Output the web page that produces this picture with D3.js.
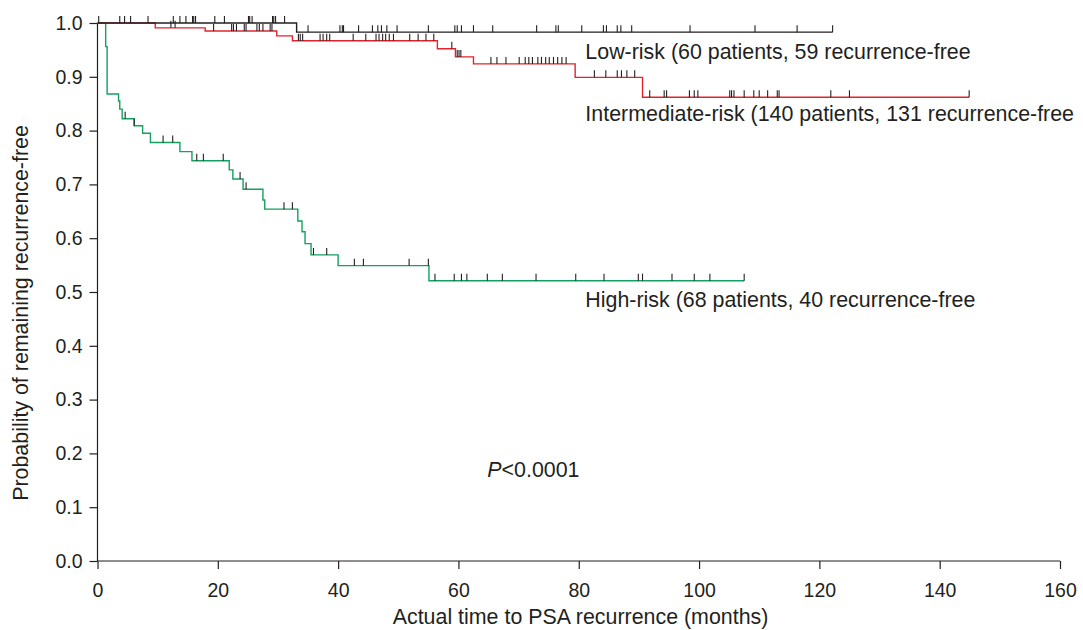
<!DOCTYPE html>
<html>
<head>
<meta charset="utf-8">
<script src="https://cdn.jsdelivr.net/npm/d3@7"></script>
<style>
body { margin:0; background:#fff; }
text { font-family: "Liberation Sans", Arial, sans-serif; fill:#231f20; }
</style>
</head>
<body>
<div class="km-container"></div>
<script>
// ---- data (months, probability) ----
var xTicks = [0, 20, 40, 60, 80, 100, 120, 140, 160];
var yTicks = [0, 0.1, 0.2, 0.3, 0.4, 0.5, 0.6, 0.7, 0.8, 0.9, 1.0];

var lowTimes = [0, 33.1];
var lowProbs = [1.0, 0.983];
var lowEnd = 122.2;
var lowCensor = [0.2, 3.7, 4.5, 5.5, 8.4, 12.6, 13.7, 14.7, 15.8, 16.0, 16.3, 19.5, 21.1, 25.1, 25.3, 25.7,
	29.1, 29.3, 29.6, 31.1, 35.0, 40.3, 40.7, 40.9, 43.4, 45.7, 46.6, 47.2, 48.1, 49.8, 55.0, 59.4, 59.8,
	60.5, 62.5, 65.7, 73.0, 76.2, 76.6, 80.5, 84.1, 84.6, 86.4, 87.0, 88.8, 98.5, 109.3, 116.3, 122.2];

var midTimes = [0, 9.6, 17.9, 29.8, 32.4, 56.5, 59.5, 62.5, 79.4, 90.6];
var midProbs = [1.0, 0.991, 0.985, 0.976, 0.967, 0.952, 0.937, 0.924, 0.899, 0.862];
var midEnd = 144.9;
var midCensor = [12.2, 12.9, 19.3, 22.3, 22.6, 23.1, 24.4, 24.7, 26.5, 26.9, 27.5, 28.7, 29.0, 33.4, 33.7, 34.1,
	37.0, 37.5, 38.1, 38.6, 42.5, 44.6, 46.3, 46.8, 47.4, 47.9, 48.5, 49.2, 51.9, 53.3, 54.6, 55.9, 58.9,
	59.8, 60.1, 60.4, 65.4, 66.4, 67.9, 70.1, 71.1, 71.7, 72.3, 73.2, 73.8, 74.5, 75.1, 75.8, 76.5, 77.2,
	77.9, 82.6, 84.5, 86.4, 87.1, 88.0, 89.3, 91.8, 94.2, 94.6, 98.4, 99.2, 99.8, 105.1, 105.4, 105.8,
	107.5, 109.1, 110.0, 111.4, 113.0, 113.3, 121.9, 125.0, 144.9];

var highTimes = [0, 1.36, 1.6, 3.5, 3.7, 4.1, 6.1, 7.5, 8.8, 13.7, 15.7, 21.9, 22.5, 24.2, 27.5, 27.8,
	33.3, 34.0, 34.5, 35.5, 40.0, 55.1];
var highProbs = [1.0, 0.956, 0.868, 0.855, 0.840, 0.822, 0.809, 0.795, 0.778, 0.761, 0.744, 0.727, 0.710,
	0.691, 0.671, 0.654, 0.632, 0.612, 0.590, 0.569, 0.549, 0.521];
var highEnd = 107.5;
var highCensor = [4.6, 6.1, 10.9, 12.5, 16.5, 17.6, 20.9, 23.7, 24.7, 31.0, 32.4, 35.9, 38.1, 42.7, 44.2,
	51.8, 55.0, 56.1, 59.3, 60.5, 61.4, 64.8, 67.3, 72.9, 79.5, 84.2, 89.9, 90.6, 95.5, 99.2, 101.8, 107.5];

var seriesNames = ['Low-risk (60 patients, 59 recurrence-free',
	'Intermediate-risk (140 patients, 131 recurrence-free',
	'High-risk (68 patients, 40 recurrence-free'];

// ---- layout ----
var margin = {top:23, right:23, bottom:69, left:97.5},
	width = 1083 - margin.left - margin.right,
	height = 630 - margin.top - margin.bottom;

var svg = d3.select('.km-container').append('svg')
	.attr('width', 1083)
	.attr('height', 630);

var g = svg.append('g')
	.attr('transform', 'translate(' + margin.left + ',' + margin.top + ')');

var x = d3.scaleLinear().domain([0, 160]).range([0, width]);
var y = d3.scaleLinear().domain([0, 1]).range([height, 0]);

// axes
var xAxis = d3.axisBottom(x).tickValues(xTicks).tickSize(8).tickFormat(d3.format('d'));
var yAxis = d3.axisLeft(y).tickValues(yTicks).tickSize(8).tickFormat(d3.format('.1f'));

g.append('g').attr('transform', 'translate(0,' + height + ')').call(xAxis)
	.call(function(a) {
		a.select('.domain').attr('d', 'M0,0H' + width).attr('stroke', '#231f20').attr('stroke-width', 1.2);
		a.selectAll('.tick line').attr('stroke', '#231f20').attr('stroke-width', 1.2);
		a.selectAll('.tick text').attr('dy', 0).attr('y', 36)
			.style('font-size', '19.5px').style('font-family', '"Liberation Sans", Arial, sans-serif').attr('fill', '#231f20');
	});

g.append('g').call(yAxis)
	.call(function(a) {
		a.select('.domain').attr('d', 'M0,' + height + 'V0').attr('stroke', '#231f20').attr('stroke-width', 1.2);
		a.selectAll('.tick line').attr('stroke', '#231f20').attr('stroke-width', 1.2);
		a.selectAll('.tick text').attr('x', -15)
			.style('font-size', '19.5px').style('font-family', '"Liberation Sans", Arial, sans-serif').attr('fill', '#231f20');
	});

// axis titles
g.append('text')
	.text('Actual time to PSA recurrence (months)')
	.attr('x', x(80.3))
	.attr('y', height + 63)
	.style('text-anchor', 'middle')
	.style('font-size', '21.4px');

g.append('text')
	.text('Probability of remaining recurrence-free')
	.attr('transform', 'translate(' + (-70) + ',' + (290) + ') rotate(-90)')
	.style('text-anchor', 'middle')
	.style('font-size', '21.4px');

// curves
var series = [
	{times: highTimes, probs: highProbs, end: highEnd, censor: highCensor, color: '#14a060'},
	{times: midTimes, probs: midProbs, end: midEnd, censor: midCensor, color: '#e3232b'},
	{times: lowTimes, probs: lowProbs, end: lowEnd, censor: lowCensor, color: '#231f20'}
];

var bisect = d3.bisector(function(d) { return d; }).right;

var line = d3.line()
	.x(function(d) { return x(d[0]); })
	.y(function(d) { return y(d[1]); })
	.curve(d3.curveStepAfter);

series.forEach(function(s) {
	var pts = s.times.map(function(t, i) { return [t, s.probs[i]]; });
	pts.push([s.end, s.probs[s.probs.length - 1]]);
	g.append('path')
		.attr('d', line(pts))
		.attr('fill', 'none')
		.attr('stroke', s.color)
		.attr('stroke-width', 1.4);

	g.selectAll(null)
		.data(s.censor)
		.enter().append('line')
		.attr('x1', function(d) { return x(d); })
		.attr('x2', function(d) { return x(d); })
		.attr('y1', function(d) { return y(s.probs[bisect(s.times, d) - 1]); })
		.attr('y2', function(d) { return y(s.probs[bisect(s.times, d) - 1]) - 7; })
		.attr('stroke', '#231f20')
		.attr('stroke-width', 1.1);
});

// legend labels
var labelY = [0.934, 0.818, 0.472];
g.selectAll('.label')
	.data(seriesNames)
	.enter().append('text')
	.attr('class', 'label')
	.attr('x', x(81.1))
	.attr('y', function(d, i) { return y(labelY[i]); })
	.style('font-size', '21.4px')
	.text(function(d) { return d; });

var pText = g.append('text')
	.attr('x', x(64.8))
	.attr('y', y(0.157))
	.style('font-size', '21.4px');
pText.append('tspan').style('font-style', 'italic').text('P');
pText.append('tspan').text('<0.0001');
</script>
</body>
</html>
